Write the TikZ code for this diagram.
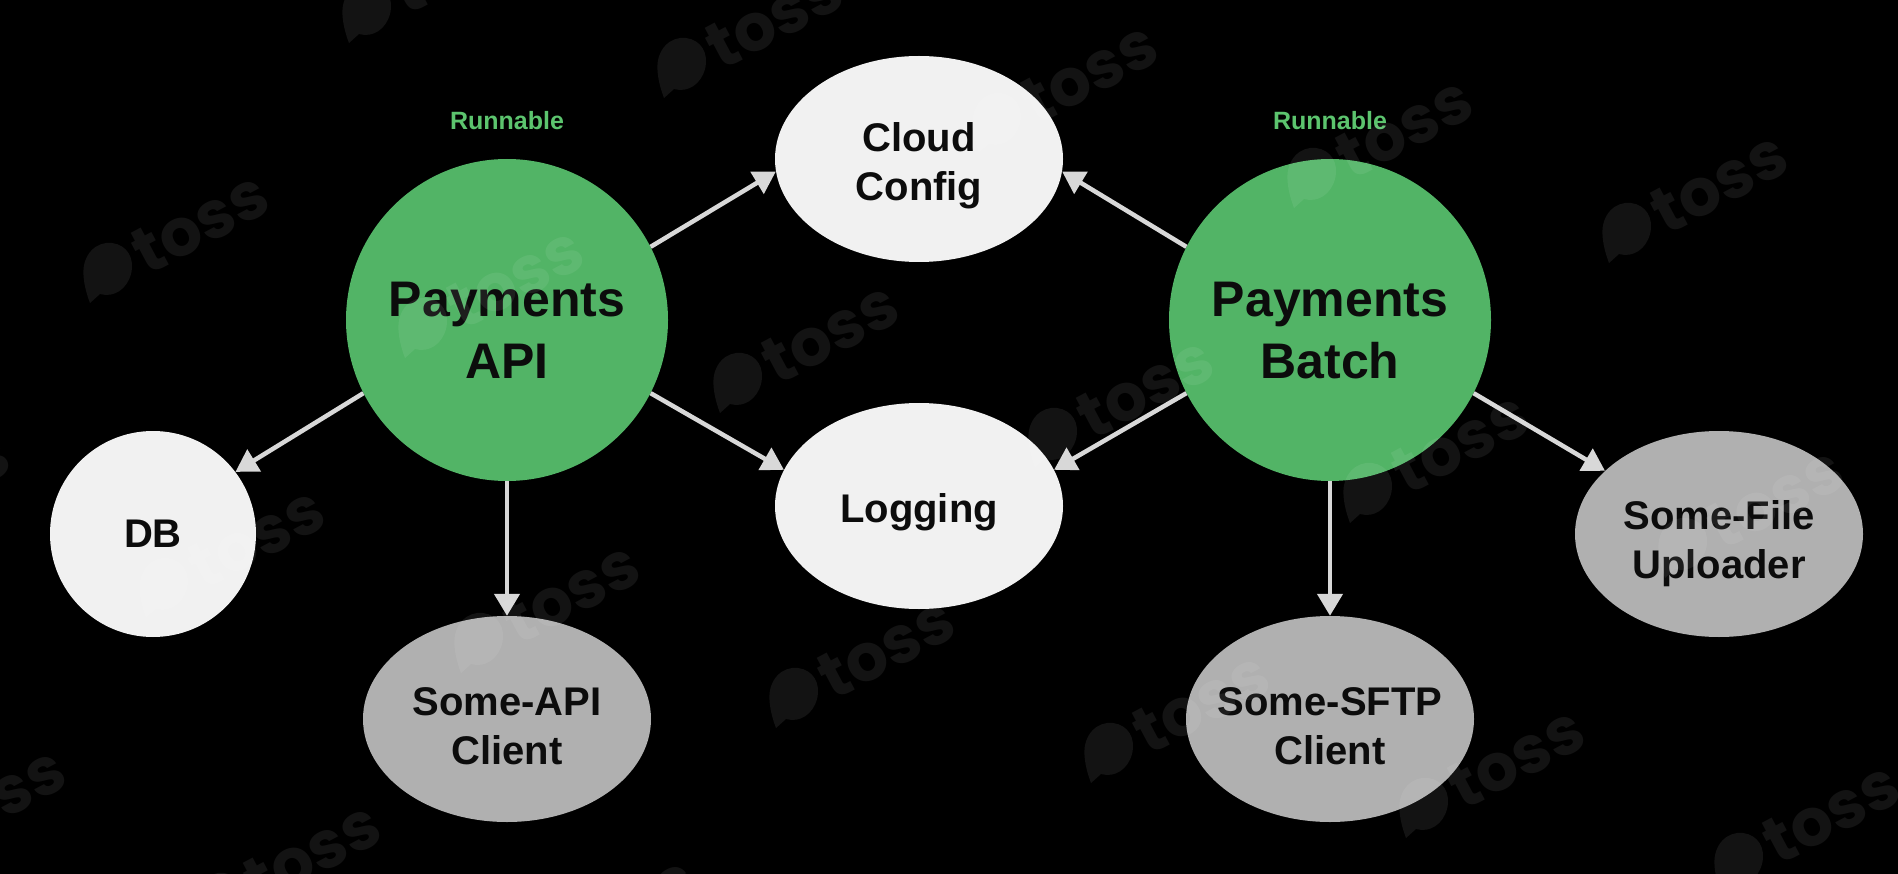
\documentclass[tikz,border=0pt]{standalone}
\usepackage{fontspec}
\setmainfont{Liberation Sans}
\newfontfamily\wmfont{Poppins}
\usetikzlibrary{shapes.geometric,arrows.meta}
\definecolor{gr}{HTML}{52B466}
\definecolor{runn}{HTML}{5CC46E}
\definecolor{lite}{HTML}{F1F1F1}
\definecolor{mid}{HTML}{B0B0B0}
\definecolor{ink}{HTML}{0C0C0C}
\definecolor{edgec}{HTML}{D8D8D8}
\tikzset{
 bigtxt/.style={font=\fontsize{50}{62}\selectfont\bfseries,text=ink,align=center,inner sep=0pt,yshift=-10.5pt},
 smalltxt/.style={font=\fontsize{40}{49}\selectfont\bfseries,text=ink,align=center,inner sep=0pt},
 mainc/.style={circle,fill=gr,minimum size=322pt,inner sep=0pt},
 soft/.style={ellipse,fill=lite,minimum width=288pt,minimum height=206pt,inner sep=0pt},
 ext/.style={ellipse,fill=mid,minimum width=288pt,minimum height=206pt,inner sep=0pt},
 dbc/.style={circle,fill=lite,minimum size=206pt,inner sep=0pt},
 runtxt/.style={font=\fontsize{25}{30}\selectfont\bfseries,text=runn,inner sep=0pt},
 conn/.style={draw=edgec,line width=4.5pt,-{Triangle[length=22pt,width=25pt,fill=edgec]}},
 wmtxt/.style={font=\fontsize{66}{66}\selectfont\wmfont\bfseries,text=white,text opacity=0.075,rotate=28,inner sep=0pt}
}
\begin{document}
\begin{tikzpicture}[x=1pt,y=-1pt]
\fill[black] (0,0) rectangle (1898,874);
\useasboundingbox (0,0) rectangle (1898,874);

\node[mainc,label={[bigtxt]center:Payments\\API}] (api) at (507,320) {};
\node[mainc,label={[bigtxt]center:Payments\\Batch}] (batch) at (1330,320) {};
\node[soft,label={[smalltxt,yshift=-7pt]center:Cloud\\Config}] (cloud) at (919,159) {};
\node[soft,label={[smalltxt,yshift=-6pt]center:Logging}] (logging) at (919,506) {};
\node[dbc,label={[smalltxt]center:DB}] (db) at (153,534) {};
\node[ext,label={[smalltxt,yshift=-7pt]center:Some-API\\Client}] (apiclient) at (507,719) {};
\node[ext,label={[smalltxt,yshift=-7pt]center:Some-SFTP\\Client}] (sftp) at (1330,719) {};
\node[ext,label={[smalltxt,yshift=-10pt]center:Some-File\\Uploader}] (file) at (1719,534) {};
\node[runtxt] (run1) at (507,121) {Runnable};
\node[runtxt] (run2) at (1330,121) {Runnable};

\draw[conn] (api.27) -- (cloud.185.5);
\draw[conn] (api.-27) -- (logging.165);
\draw[conn] (api.207) -- (db.37.6);
\draw[conn] (api.-90) -- (apiclient.90);
\draw[conn] (batch.153) -- (cloud.-5.5);
\draw[conn] (batch.207) -- (logging.15);
\draw[conn] (batch.-90) -- (sftp.90);
\draw[conn] (batch.-27) -- (file.151);

\begin{scope}
\clip (0,0) rectangle (1898,874);
\foreach \i in {-1,...,5}{
 \foreach \j in {-1,...,2}{
  \pgfmathsetmacro{\cx}{108+\i*315+\j*56}
  \pgfmathsetmacro{\cy}{270+\i*55+\j*315}
  \begin{scope}[shift={(\cx,\cy)}]
   \fill[white,fill opacity=0.075] (-24.5,5) .. controls (-26,-15) and (-12,-29) .. (4,-27)
     .. controls (19,-25) and (27,-12) .. (23,4)
     .. controls (19,19) and (6,28) .. (-8,24)
     -- (-18,33) .. controls (-21,25) and (-24,15) .. (-24.5,5) -- cycle;
   \node[wmtxt] (wm\i\j) at (92,-47) {toss};
  \end{scope}
 }
}
\end{scope}
\end{tikzpicture}
\end{document}
